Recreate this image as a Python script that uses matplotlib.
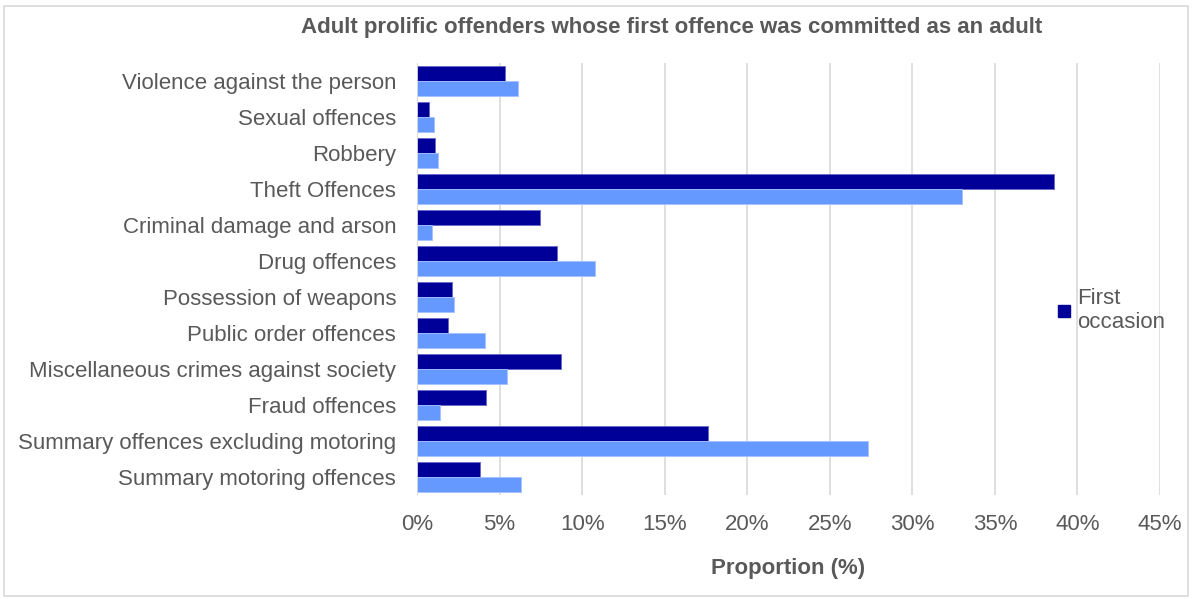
import matplotlib.pyplot as plt
from matplotlib.lines import Line2D
import numpy as np

categories = [
    "Violence against the person",
    "Sexual offences",
    "Robbery",
    "Theft Offences",
    "Criminal damage and arson",
    "Drug offences",
    "Possession of weapons",
    "Public order offences",
    "Miscellaneous crimes against society",
    "Fraud offences",
    "Summary offences excluding motoring",
    "Summary motoring offences",
]
first_occasion = [5.3, 0.7, 1.1, 38.6, 7.45, 8.5, 2.15, 1.85, 8.7, 4.2, 17.6, 3.8]
second_series = [6.1, 1.0, 1.25, 33.0, 0.9, 10.8, 2.25, 4.1, 5.45, 1.4, 27.3, 6.3]
xticks = [0, 5, 10, 15, 20, 25, 30, 35, 40, 45]

plt.rcParams["font.family"] = ["Liberation Sans", "DejaVu Sans"]
grey = "#595959"

fig = plt.figure(figsize=(11.92, 5.99), dpi=100)
ax = fig.add_axes([417 / 1192, 1 - 495 / 599, (1160 - 417) / 1192, (495 - 63) / 599])

y = np.arange(len(categories))
h = 0.43
ax.barh(y - h / 2, first_occasion, height=h, color="#000099",
        edgecolor="#6666cc", linewidth=0.6, zorder=3)
ax.barh(y + h / 2, second_series, height=h, color="#6699ff",
        edgecolor="#a3c2ff", linewidth=0.6, zorder=3)

ax.set_ylim(len(categories) - 0.5, -0.5)
ax.set_yticks(y)
ax.set_yticklabels(categories, fontsize=16, color=grey)
ax.set_xlim(0, 45)
ax.set_xticks(xticks)
ax.set_xticklabels([f"{t}%" for t in xticks], fontsize=16, color=grey)
ax.tick_params(axis="y", length=0, pad=15)
ax.tick_params(axis="x", length=0, pad=14)
ax.xaxis.grid(True, color="#d9d9d9", linewidth=1.2, zorder=0)
for s in ax.spines.values():
    s.set_visible(False)
ax.axvline(0, color="#d9d9d9", linewidth=1.2, zorder=4)

ax.set_xlabel("Proportion (%)", fontsize=16, fontweight="bold", color=grey, labelpad=16)
fig.text(672 / 1192, 1 - 28 / 599, "Adult prolific offenders whose first offence was committed as an adult",
         ha="center", va="center", fontsize=16, fontweight="bold", color=grey)

handle = Line2D([], [], linestyle="none", marker="s", markersize=9, color="#000099")
fig.legend([handle], ["First\noccasion"], loc="upper left", bbox_to_anchor=(1042 / 1192, 1 - 279 / 599),
           frameon=False, fontsize=16, labelcolor=grey, handletextpad=0.0, borderaxespad=0,
           handlelength=1.2)

fig.patches.append(plt.Rectangle((4 / 1192, 3 / 599), 1 - 8 / 1192, 1 - 9 / 599, transform=fig.transFigure,
                                 fill=False, edgecolor="#d9d9d9", linewidth=1.2))

fig.savefig("out.png", dpi=100)
